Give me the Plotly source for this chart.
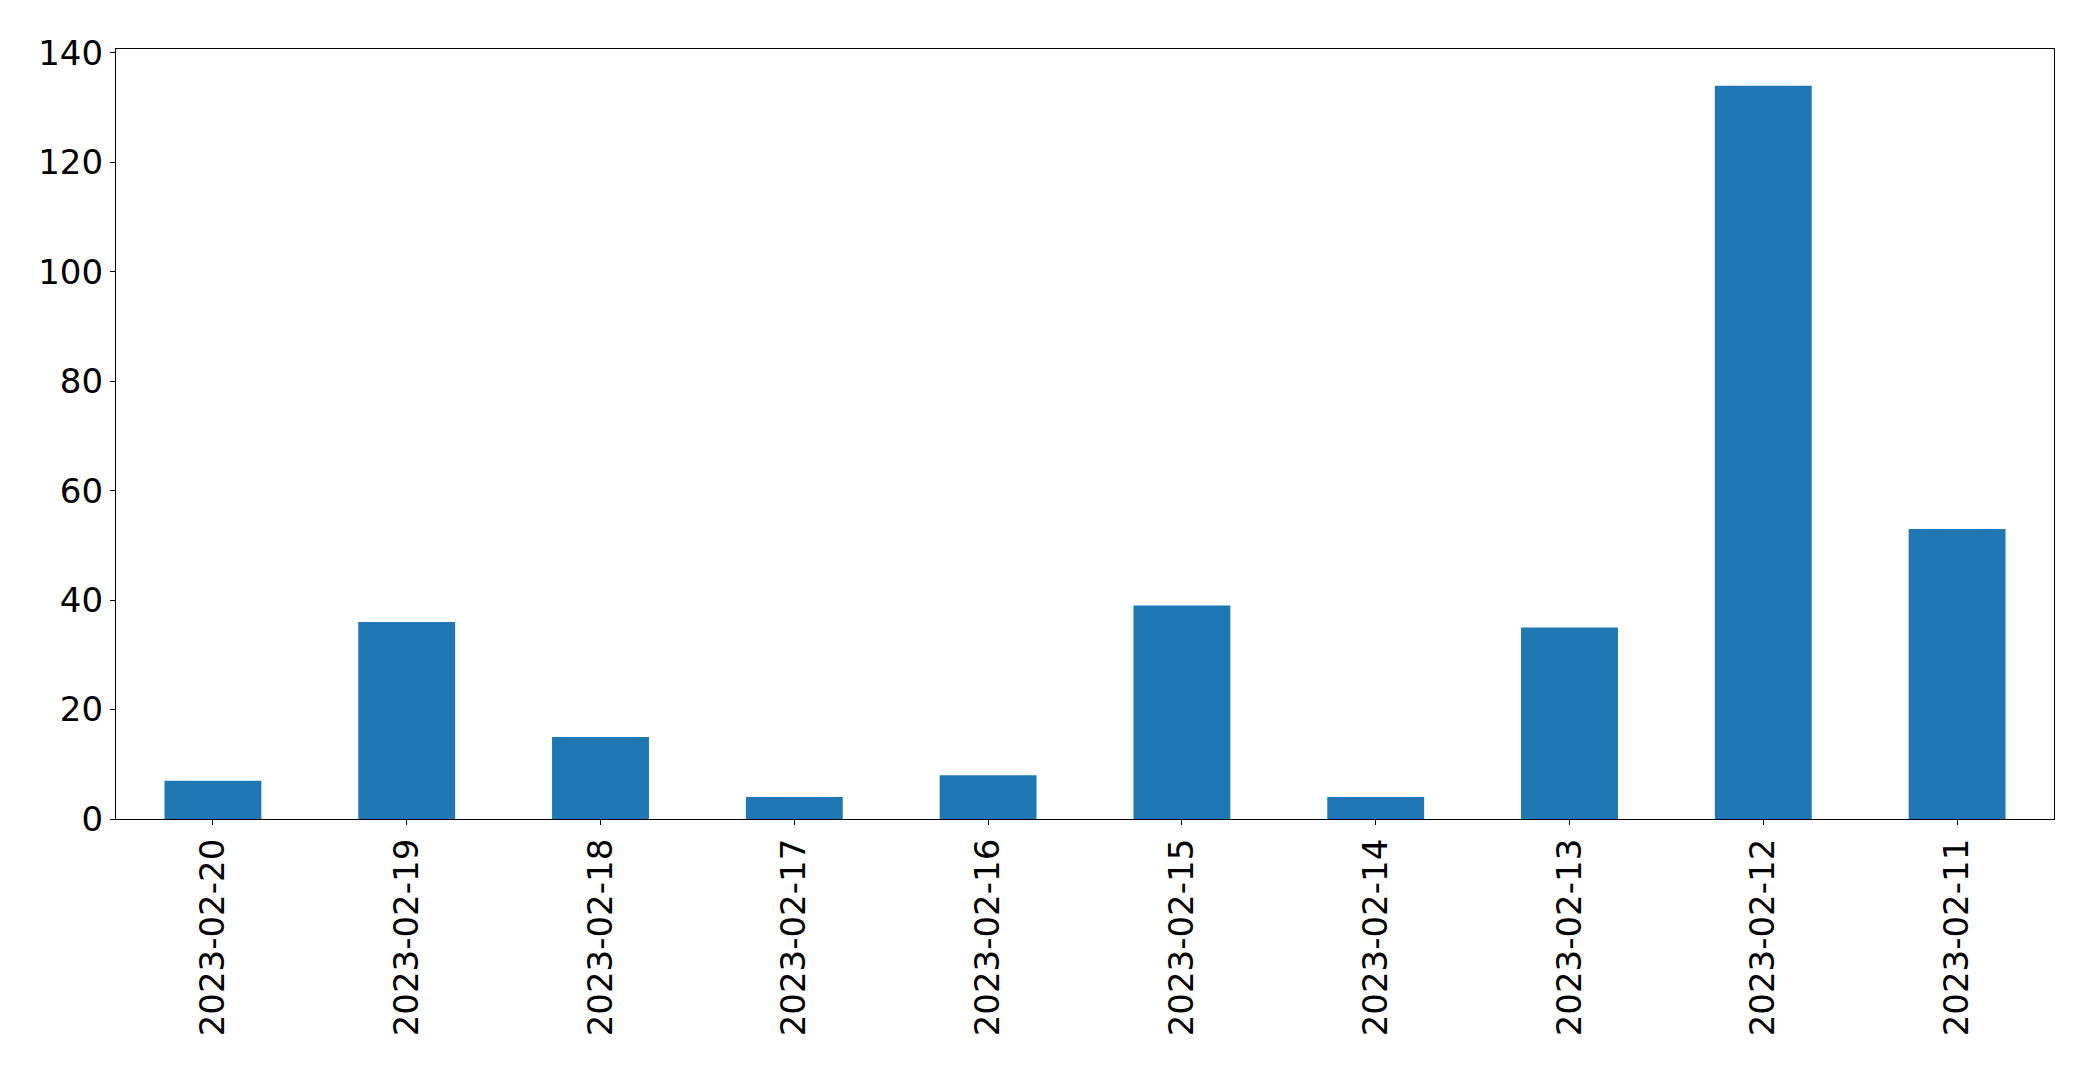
import plotly.graph_objects as go

dates = ["2023-02-20", "2023-02-19", "2023-02-18", "2023-02-17", "2023-02-16",
         "2023-02-15", "2023-02-14", "2023-02-13", "2023-02-12", "2023-02-11"]
counts = [7, 36, 15, 4, 8, 39, 4, 35, 134, 53]
y_ticks = [0, 20, 40, 60, 80, 100, 120, 140]

fig = go.Figure(go.Bar(x=dates, y=counts, marker=dict(color="#1f77b4", line=dict(width=0)), width=0.5))

font = dict(family="DejaVu Sans", size=34, color="black")
fig.update_layout(
    width=2077, height=1055,
    margin=dict(l=108, r=31, t=41, b=244),
    plot_bgcolor="white", paper_bgcolor="white",
    font=font, showlegend=False,
)
fig.update_xaxes(type="category", range=[-0.5, 9.5], tickangle=-90,
                 showline=True, linecolor="black", linewidth=1.3, mirror=True,
                 ticks="outside", ticklen=5, tickcolor="black", tickwidth=1.3,
                 showgrid=False, tickfont=font)
fig.update_yaxes(range=[0, 140.7], tickvals=y_ticks,
                 showline=True, linecolor="black", linewidth=1.3, mirror=True,
                 ticks="outside", ticklen=5, tickcolor="black", tickwidth=1.3,
                 showgrid=False, zeroline=False, tickfont=font)

fig.write_html("out.html")
